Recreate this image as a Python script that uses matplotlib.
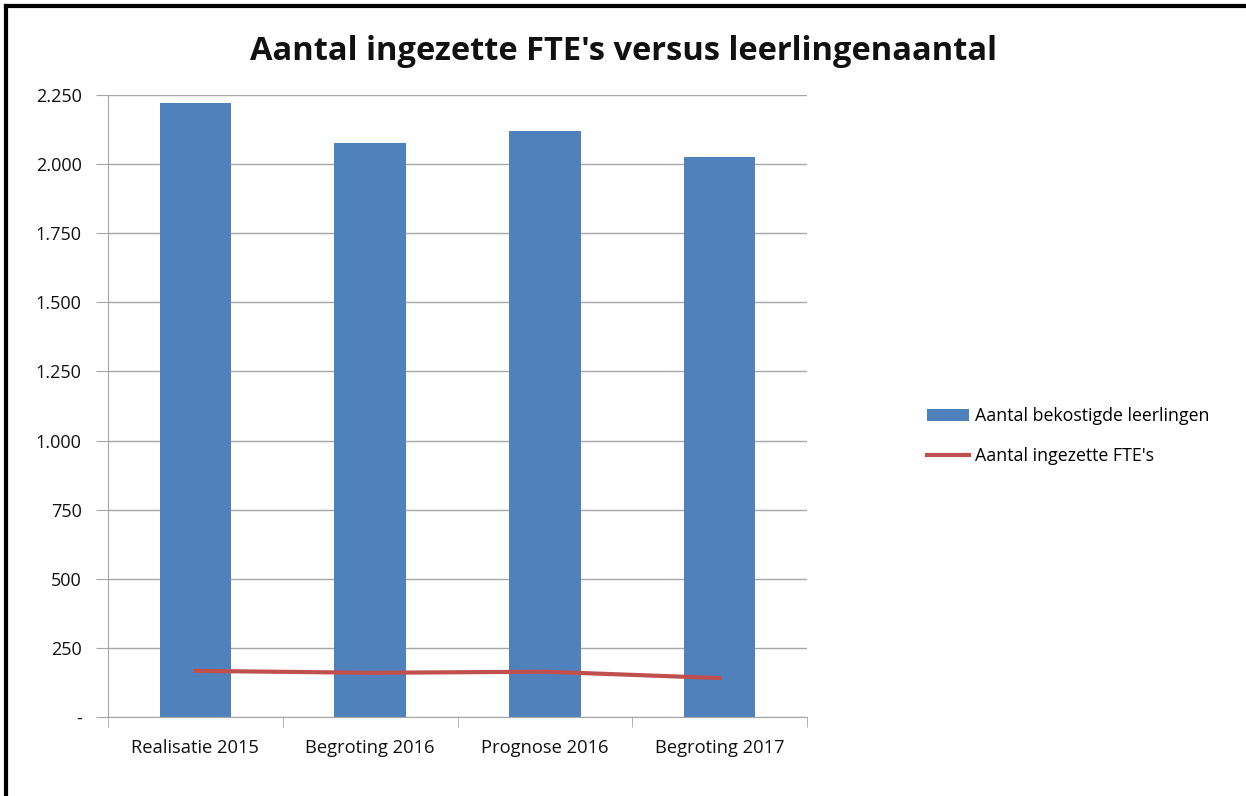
import matplotlib

matplotlib.use("Agg")
import matplotlib.pyplot as plt  # noqa: E402
from matplotlib.lines import Line2D  # noqa: E402
from matplotlib.patches import Patch  # noqa: E402
from matplotlib.ticker import FuncFormatter  # noqa: E402

categories = ["Realisatie 2015", "Begroting 2016", "Prognose 2016", "Begroting 2017"]
leerlingen = [2221, 2077, 2120, 2026]
fte = [167, 160, 164, 141]
yticks = [0, 250, 500, 750, 1000, 1250, 1500, 1750, 2000, 2250]

BLUE = "#4F81BD"
RED = "#C0504D"
GRID = "#A6A6A6"
FONT = ["Open Sans", "DejaVu Sans"]

plt.rcParams["font.family"] = FONT


def _fmt(v, _pos):
    if v == 0:
        return "-"
    return f"{int(v):,}".replace(",", ".")


fig = plt.figure(figsize=(12.46, 7.96), dpi=100)
ax = fig.add_axes([0.0867, 0.0992, 0.561, 0.7815])

x = list(range(len(categories)))
ax.bar(x, leerlingen, width=0.41, color=BLUE, zorder=2)
ax.plot(x, fte, color=RED, lw=3, zorder=3)

ax.set_xlim(-0.5, len(categories) - 0.5)
ax.set_ylim(0, 2250)
ax.set_yticks(yticks)
ax.yaxis.set_major_formatter(FuncFormatter(_fmt))
ax.yaxis.grid(True, color=GRID, lw=1, zorder=0)

ax.set_xticks(x)
ax.set_xticklabels(categories)
ax.set_xticks([i - 0.5 for i in range(len(categories) + 1)], minor=True)
ax.tick_params(axis="x", which="major", length=0, pad=16, labelsize=13.2, colors="#111111")
ax.tick_params(axis="x", which="minor", length=7, color=GRID, direction="out")
ax.tick_params(axis="y", length=9, color=GRID, pad=10, labelsize=13, labelcolor="#111111")

for side in ("top", "right"):
    ax.spines[side].set_visible(False)
for side in ("left", "bottom"):
    ax.spines[side].set_color(GRID)

fig.text(0.5, 0.935, "Aantal ingezette FTE's versus leerlingenaantal",
         ha="center", va="center", fontsize=23.5, fontweight="bold", color="#111111")

handles = [Patch(facecolor=BLUE, label="Aantal bekostigde leerlingen"),
           Line2D([0], [0], color=RED, lw=3, label="Aantal ingezette FTE's")]
fig.legend(handles=handles, loc="center left", bbox_to_anchor=(0.731, 0.452),
           frameon=False, fontsize=12.8, handlelength=2.4, labelspacing=1.25,
           handletextpad=0.3)

# rand links en boven
fig.add_artist(Line2D([0.005, 0.005], [0, 0.993], color="black", lw=3,
                      transform=fig.transFigure))
fig.add_artist(Line2D([0.005, 1.0], [0.993, 0.993], color="black", lw=3,
                      transform=fig.transFigure))

fig.savefig("out.png", dpi=100)
